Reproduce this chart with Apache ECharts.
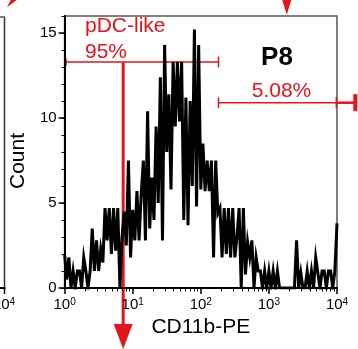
<!DOCTYPE html>
<html>
<head>
<meta charset="utf-8">
<script src="https://cdn.jsdelivr.net/npm/echarts@6/dist/echarts.min.js"></script>
<style>
html, body { margin: 0; padding: 0; background: #fff; }
#main { width: 358px; height: 349px; }
</style>
</head>
<body>
<div id="main"></div>
<script>
// CD11b-PE histogram of P8, 32 bins per decade from 10^0 to 10^4
var binsPerDecade = 32;
var counts = [
    2, 0.5, 1.8, 0, 1, 0, 1, 1, 0, 1.8,
    1, 0, 1, 3.5, 1, 2.8, 1, 2.3, 1.5, 4.7,
    2.8, 4.7, 2, 4.7, 2.2, 4.7, 0, 3, 4.5, 2.5,
    7.5, 1.8, 4.6, 2.8, 5.7, 2.8, 5.5, 7.5, 2.8, 10.4,
    3.5, 6.5, 4, 9.5, 5, 12.4, 2.8, 14.3, 8, 11.4,
    5.8, 13.3, 9.5, 13.3, 9.8, 13.3, 4, 11.2, 3.7, 11,
    6, 15.2, 4.8, 14.3, 5.8, 8.5, 5.7, 7.5, 5.7, 7.5,
    1.8, 7.5, 4.4, 4.7, 1.8, 4.7, 2, 4.7, 1.8, 4.7,
    1.8, 3, 4.7, 0, 4.7, 0.8, 2.7, 1.8, 2.8, 0,
    1.8, 1, 1, 0, 1, 0, 1, 0, 1, 0,
    1, 0, 0, 0, 0, 0, 0, 0, 0, 2.8,
    0, 0.9, 0, 0, 1, 0, 1, 0, 1.8, 0.9,
    0, 1, 1, 0, 1, 1, 0, 1, 3.8
];
var decadeTicks = [1, 10, 100, 1000, 10000];
var minorTicks = [2, 3, 4, 5, 6, 7, 8, 9,
    20, 30, 40, 50, 60, 70, 80, 90,
    200, 300, 400, 500, 600, 700, 800, 900,
    2000, 3000, 4000, 5000, 6000, 7000, 8000, 9000];
var countTicks = [0, 5, 10, 15];

// gates: [from, to, level]
var pdcGate = [1, 182, 13.3];
var highGate = [182, 9770, 10.9];
var pdcArrowX = 7.25;
var topArrowX = 1830;

var font = 'Liberation Sans, Arial, sans-serif';
var red = '#e4141c';

var chart = echarts.init(document.getElementById('main'));

var seriesData = counts.map(function (c, i) {
    return [Math.pow(10, i / binsPerDecade), c];
});

var supRich = {
    n: { fontSize: 15, fontFamily: font, color: '#000' },
    s: { fontSize: 10, fontFamily: font, color: '#000', verticalAlign: 'top' }
};

var option = {
    animation: false,
    backgroundColor: '#fff',
    grid: {
        left: 64,
        right: 21,
        top: 16,
        bottom: 61,
        show: true,
        borderColor: '#555',
        borderWidth: 1.5,
        backgroundColor: 'transparent'
    },
    xAxis: [
        {
            type: 'log',
            logBase: 10,
            min: 1,
            max: 10000,
            name: 'CD11b-PE',
            nameLocation: 'middle',
            nameGap: 16,
            nameTextStyle: { fontSize: 21, fontFamily: font, color: '#000', verticalAlign: 'top' },
            axisLine: { lineStyle: { color: '#000', width: 2 } },
            axisTick: { length: 6, customValues: decadeTicks, lineStyle: { color: '#000', width: 1.5 } },
            axisLabel: {
                customValues: decadeTicks,
                margin: 9,
                formatter: function (v) {
                    return '{n|10}{s|' + Math.round(Math.log10(v)) + '}';
                },
                rich: supRich
            },
            splitLine: { show: false }
        },
        {
            type: 'log',
            logBase: 10,
            min: 1,
            max: 10000,
            position: 'bottom',
            axisLine: { show: false },
            axisTick: { length: 3.5, customValues: minorTicks, lineStyle: { color: '#000', width: 1 } },
            axisLabel: { show: false },
            splitLine: { show: false }
        }
    ],
    yAxis: [
        {
            type: 'value',
            min: 0,
            max: 16,
            interval: 5,
            name: 'Count',
            nameLocation: 'middle',
            nameGap: 28,
            nameRotate: 90,
            nameTextStyle: { fontSize: 21, fontFamily: font, color: '#000', padding: [0, 18, 0, 0] },
            axisLine: { show: true, lineStyle: { color: '#000', width: 2 } },
            axisTick: { show: true, length: 6, customValues: countTicks, lineStyle: { color: '#000', width: 1.5 } },
            axisLabel: { customValues: countTicks, margin: 8, fontSize: 15, fontFamily: font, color: '#000' },
            splitLine: { show: false }
        },
        {
            type: 'value',
            min: 0,
            max: 16,
            interval: 1,
            position: 'left',
            axisLine: { show: false },
            axisTick: { show: true, length: 3, lineStyle: { color: '#000', width: 1 } },
            axisLabel: { show: false },
            splitLine: { show: false }
        }
    ],
    series: [
        {
            type: 'line',
            data: seriesData,
            showSymbol: false,
            symbol: 'none',
            lineStyle: { color: '#000', width: 3, join: 'miter' }
        }
    ]
};

chart.setOption(option);

function px(x, y) {
    return chart.convertToPixel({ xAxisIndex: 0, yAxisIndex: 0 }, [x, y]);
}

var g1a = px(pdcGate[0], pdcGate[2]);
var g1b = px(pdcGate[1], pdcGate[2]);
var g2a = px(highGate[0], highGate[2]);
var g2b = px(highGate[1], highGate[2]);
var arr = px(pdcArrowX, pdcGate[2]);
var topArr = px(topArrowX, 16);

function seg(x1, y1, x2, y2, w, c) {
    return { type: 'line', shape: { x1: x1, y1: y1, x2: x2, y2: y2 }, style: { stroke: c || red, lineWidth: w } };
}
function txt(x, y, t, size, align, extra) {
    var s = { text: t, x: x, y: y, fontSize: size, fontFamily: font, fill: red, align: align, verticalAlign: 'middle' };
    for (var k in extra) s[k] = extra[k];
    return { type: 'text', style: s, z: 20 };
}

var elements = [
    // pDC-like gate and arrow
    seg(g1a[0] + 1, g1a[1], g1b[0], g1b[1], 1.5),
    seg(g1a[0] + 1.5, g1a[1] - 3.5, g1a[0] + 1.5, g1a[1] + 3.5, 1.5),
    seg(g1b[0], g1b[1] - 5.5, g1b[0], g1b[1] + 5.5, 1.5),
    seg(arr[0], arr[1], arr[0], 326, 3),
    { type: 'polygon', shape: { points: [[arr[0] - 9.5, 324], [arr[0] + 9.5, 324], [arr[0], 349]] }, style: { fill: red } },
    // high gate
    seg(g2a[0], g2a[1], g2b[0], g2b[1], 1.5),
    seg(g2a[0], g2a[1] - 5.5, g2a[0], g2a[1] + 5.5, 1.5),
    seg(g2b[0], g2b[1] - 5.5, g2b[0], g2b[1] + 5.5, 1.5),
    seg(g2b[0], g2b[1], g2b[0] + 18, g2b[1], 2.5),
    { type: 'rect', shape: { x: g2b[0] + 17, y: g2b[1] - 8.5, width: 4, height: 17 }, style: { fill: red } },
    // arrows cut by the top edge
    { type: 'polygon', shape: { points: [[topArr[0] - 4.5, 0], [topArr[0] + 4.5, 0], [topArr[0], 14.7]] }, style: { fill: red } },
    { type: 'polygon', shape: { points: [[7, 7.3], [10.7, 0], [16.7, 0]] }, style: { fill: red } },
    // edge of the neighbouring panel
    seg(4.5, 17, 4.5, 288, 1.5, '#333'),
    seg(0, 17, 5, 17, 1.5, '#555'),
    seg(0, 288, 5.5, 288, 2, '#000'),
    seg(4.5, 288, 4.5, 294, 1.5, '#000'),
    { type: 'text', style: { text: '{n|10}{s|4}', rich: supRich, x: 4, y: 297, align: 'center', verticalAlign: 'top' } },
    // labels
    txt(85, 26, 'pDC-like', 21, 'left'),
    txt(85, 52.7, '95%', 21, 'left'),
    txt(277, 57.7, 'P8', 26, 'center', { fill: '#000', fontWeight: 'bold' }),
    txt(281.5, 91, '5.08%', 21, 'center')
];

chart.setOption({ graphic: { elements: elements } });
</script>
</body>
</html>
